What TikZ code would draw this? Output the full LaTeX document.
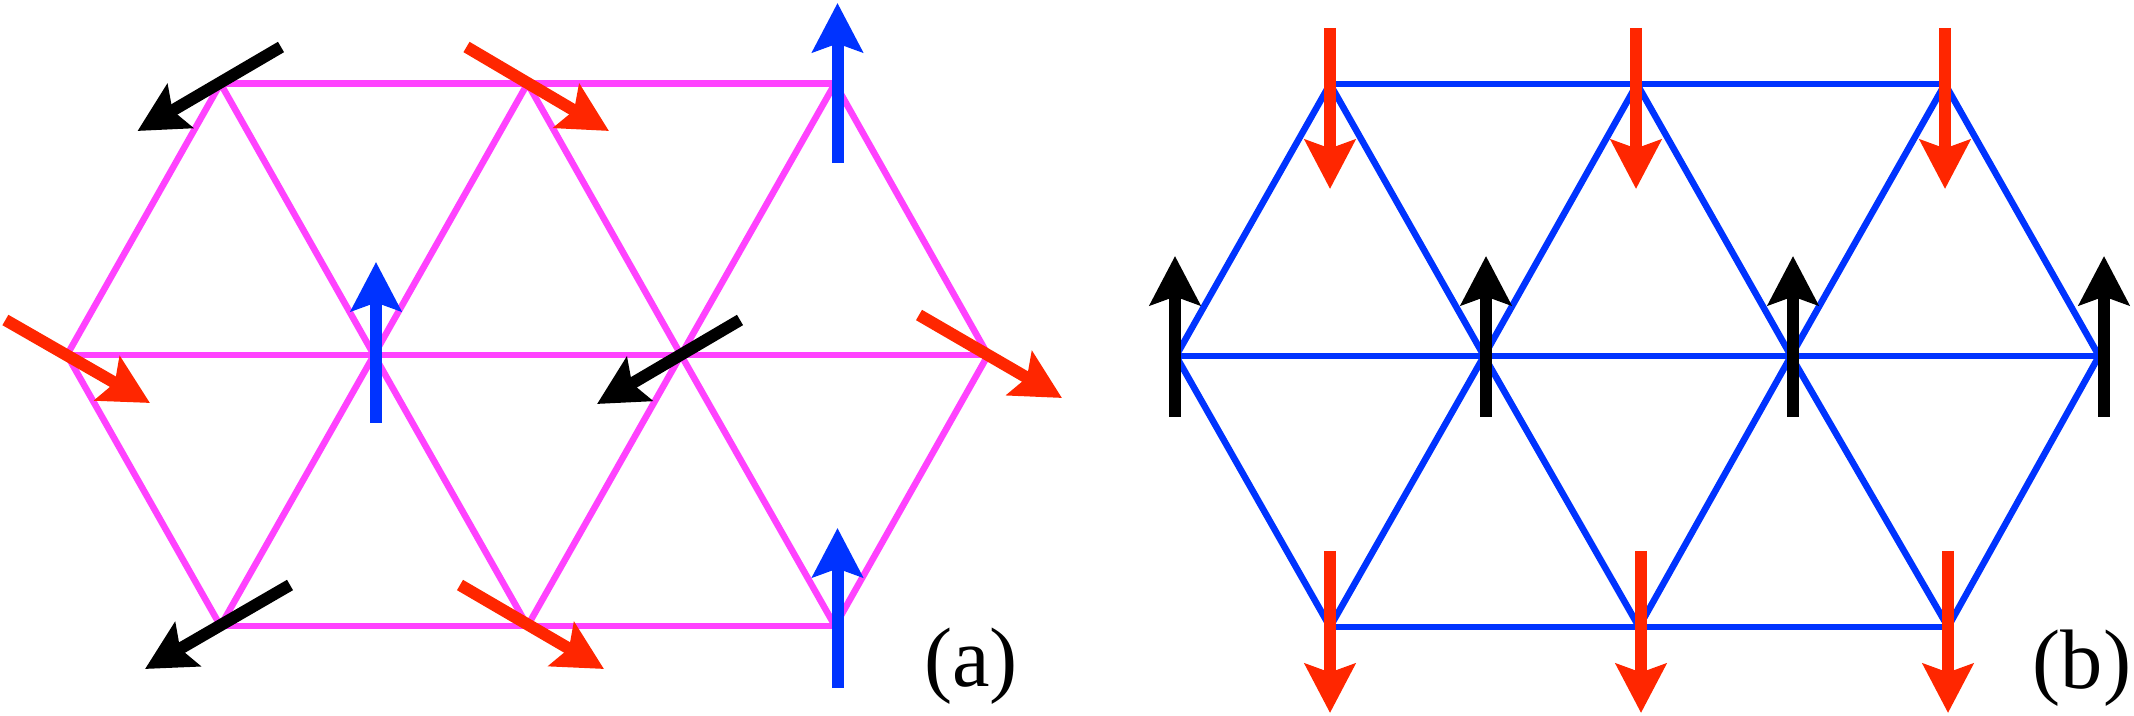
\documentclass[tikz,border=0pt]{standalone}
\usepackage{fontspec}
\setmainfont{Liberation Serif}
\usetikzlibrary{arrows.meta}
\definecolor{lmag}{RGB}{255,66,255}
\definecolor{lblue}{RGB}{0,51,255}
\definecolor{sred}{RGB}{255,38,0}
\begin{document}
\begin{tikzpicture}[x=0.01cm,y=-0.01cm,
  lat/.style={line width=0.065cm, line join=round},
  spin/.style={line width=0.12cm, -{Stealth[length=0.49cm,width=0.50cm,inset=0.085cm]}},
  lbl/.style={inner sep=0pt, font=\fontsize{24}{28}\selectfont}]
\useasboundingbox (0,0) rectangle (2134,716);
% panel (a) lattice sites
\coordinate (aT0) at (220.5,83.5);
\coordinate (aT1) at (527.5,83.5);
\coordinate (aT2) at (835,83.5);
\coordinate (aM0) at (67,355);
\coordinate (aM1) at (374,355);
\coordinate (aM2) at (681,355);
\coordinate (aM3) at (988,355);
\coordinate (aB0) at (220.5,626);
\coordinate (aB1) at (527.5,626);
\coordinate (aB2) at (835,626);
% panel (b) lattice sites
\coordinate (bT0) at (1330,84);
\coordinate (bT1) at (1637,84);
\coordinate (bT2) at (1945,84);
\coordinate (bM0) at (1176,356);
\coordinate (bM1) at (1484,356);
\coordinate (bM2) at (1791,356);
\coordinate (bM3) at (2099,356);
\coordinate (bB0) at (1330,627);
\coordinate (bB1) at (1639,627);
\coordinate (bB2) at (1948,627);
% lattice (a)
\draw[lat,lmag] (aT0) -- (aT2);
\draw[lat,lmag] (aM0) -- (aM3);
\draw[lat,lmag] (aB0) -- (aB2);
\draw[lat,lmag] (aM0) -- (aT0) -- (aM1) -- (aT1) -- (aM2) -- (aT2) -- (aM3);
\draw[lat,lmag] (aM0) -- (aB0) -- (aM1) -- (aB1) -- (aM2) -- (aB2) -- (aM3);
% lattice (b)
\draw[lat,lblue] (bT0) -- (bT2);
\draw[lat,lblue] (bM0) -- (bM3);
\draw[lat,lblue] (bB0) -- (bB2);
\draw[lat,lblue] (bM0) -- (bT0) -- (bM1) -- (bT1) -- (bM2) -- (bT2) -- (bM3);
\draw[lat,lblue] (bM0) -- (bB0) -- (bM1) -- (bB1) -- (bM2) -- (bB2) -- (bM3);
% spins (a)
\draw[spin,black] (281,47) -- (137.5,131);
\draw[spin,sred] (466.5,47) -- (609,131);
\draw[spin,lblue] (837.5,163) -- (837.5,3);
\draw[spin,sred] (5.4,320) -- (150,403);
\draw[spin,lblue] (376,423) -- (376,262);
\draw[spin,black] (740,320) -- (597,404);
\draw[spin,sred] (919,315) -- (1062,398);
\draw[spin,black] (290,585) -- (145,669);
\draw[spin,sred] (460,585) -- (604,669);
\draw[spin,lblue] (837.5,688) -- (837.5,528);
% spins (b)
\foreach \x in {1330,1636,1945} \draw[spin,sred] (\x,28) -- (\x,189);
\foreach \x in {1175,1486,1793,2104} \draw[spin,black] (\x,417) -- (\x,256);
\foreach \x in {1330,1641,1948} \draw[spin,sred] (\x,551) -- (\x,713);
% labels
\node[lbl] (la) at (971,666) {(a)};
\node[lbl] (lb) at (2082,668) {(b)};
\end{tikzpicture}
\end{document}
